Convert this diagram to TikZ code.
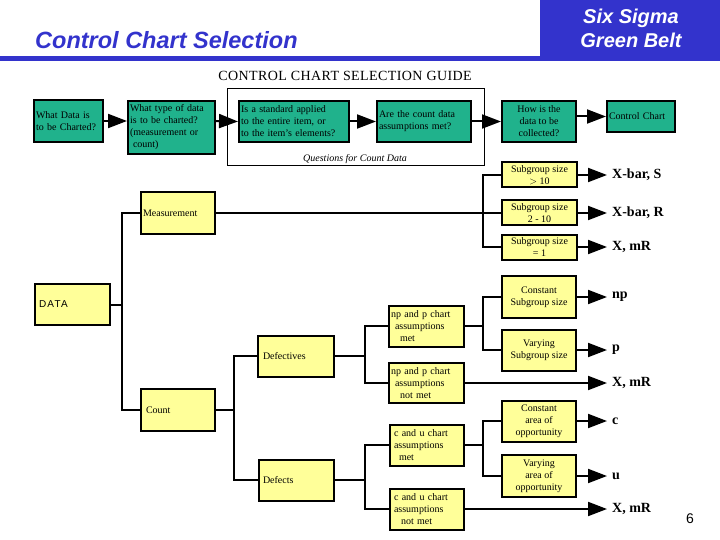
\documentclass[tikz,border=0pt]{standalone}
\usepackage{fontspec}
\setmainfont{Liberation Serif}
\newfontfamily\hsans{Liberation Sans}
\usetikzlibrary{arrows.meta}
\definecolor{hblue}{RGB}{51,51,204}
\definecolor{teal2}{RGB}{32,178,140}
\definecolor{yel}{RGB}{255,255,153}
\newcommand\boxfont{\fontsize{10}{12}\selectfont}
\begin{document}
\begin{tikzpicture}[x=1pt,y=-1pt,
 bx/.style={draw, line width=2pt, inner xsep=2pt, inner ysep=1pt, font=\boxfont},
 tb/.style={bx, fill=teal2},
 yb/.style={bx, fill=yel},
 conn/.style={line width=2pt},
 arr/.style={line width=2pt, -{Triangle[length=19pt,width=14pt]}},
 res/.style={anchor=west, inner sep=0pt, font=\fontsize{14}{16}\selectfont\bfseries},
]
\useasboundingbox (0,0) rectangle (720,540);
% header
\fill[hblue] (540,0) rectangle (720,58);
\fill[hblue] (0,56) rectangle (720,61);
\node[anchor=base west, inner sep=0pt, text=hblue, font=\hsans\bfseries\itshape\fontsize{23.5}{27}\selectfont] (title) at (35,49) {Control Chart Selection};
\node[text=white, align=center, inner sep=0pt, font=\hsans\bfseries\itshape\fontsize{20}{24}\selectfont] (brand) at (631,28) {Six Sigma\\Green Belt};
\node[font=\fontsize{14}{16}\selectfont\addfontfeatures{LetterSpace=3}] (guide) at (345,76) {CONTROL CHART SELECTION GUIDE};

% frame
\draw[line width=1pt] (227,89) rectangle (484,166);
\node[font=\boxfont\itshape, anchor=base] (qcd) at (355,162) {Questions for Count Data};

% top row
\node[tb, minimum width=69pt, minimum height=42pt, text width=65pt, align=left] (t1) at (68.5,121) {What Data is\\to be Charted?};
\node[tb, minimum width=87pt, minimum height=53pt, text width=83pt, align=left] (t2) at (171.5,127.5) {What type of data\\is to be charted?\\(measurement or\\\hspace*{3pt}count)};
\node[tb, minimum width=110pt, minimum height=41pt, text width=106pt, align=left] (t3) at (294,121.5) {Is a standard applied\\to the entire item, or\\to the item's elements?};
\node[tb, minimum width=94pt, minimum height=41pt, text width=90pt, align=left] (t4) at (424,121.5) {Are the count data\\assumptions met?};
\node[tb, minimum width=74pt, minimum height=41pt, align=center] (t5) at (539,121.5) {How is the\\data to be\\collected?};
\node[tb, minimum width=68pt, minimum height=31pt, text width=64pt, align=left] (t6) at (641,116.5) {Control Chart};

\draw[arr] (t1.east) -- (t1.east -| t2.west);
\draw[arr] (t1.east -| t2.east) -- (t3.west);
\draw[arr] (t3.east) -- (t4.west);
\draw[arr] (t4.east) -- (t5.west);
\draw[arr] (t6.west -| t5.east) -- (t6.west);

% yellow boxes
\node[yb, minimum width=75pt, minimum height=41pt, text width=67pt, align=left] (data) at (72.5,304.5) {\hsans\addfontfeatures{LetterSpace=12}DATA};
\node[yb, minimum width=74pt, minimum height=41pt, text width=70pt, align=left] (meas) at (178,213) {Measurement};
\node[yb, minimum width=74pt, minimum height=42pt, text width=64pt, align=left] (count) at (178,410) {Count};
\node[yb, minimum width=76pt, minimum height=41pt, text width=66pt, align=left] (defv) at (296,356) {Defectives};
\node[yb, minimum width=75pt, minimum height=41pt, text width=67pt, align=left] (defc) at (296.5,480) {Defects};

\node[yb, minimum width=75pt, minimum height=41pt, text width=71pt, align=left] (npm) at (426.5,326) {np and p chart\\\hspace*{4pt}assumptions\\\hspace*{9pt}met};
\node[yb, minimum width=75pt, minimum height=40pt, text width=71pt, align=left] (npn) at (426.5,383) {np and p chart\\\hspace*{4pt}assumptions\\\hspace*{9pt}not met};
\node[yb, minimum width=74pt, minimum height=41pt, text width=66pt, align=left] (cum) at (427,445) {c and u chart\\assumptions\\\hspace*{5pt}met};
\node[yb, minimum width=74pt, minimum height=41pt, text width=66pt, align=left] (cun) at (427,509) {c and u chart\\assumptions\\\hspace*{7pt}not met};

\node[yb, minimum width=75pt, minimum height=25pt, align=center] (sg1) at (539.5,175) {Subgroup size\\$>$ 10};
\node[yb, minimum width=75pt, minimum height=25pt, align=center] (sg2) at (539.5,213) {Subgroup size\\2 - 10};
\node[yb, minimum width=75pt, minimum height=25pt, align=center] (sg3) at (539.5,247) {Subgroup size\\= 1};
\node[yb, minimum width=74pt, minimum height=42pt, align=center] (csg) at (539,297) {Constant\\Subgroup size};
\node[yb, minimum width=74pt, minimum height=41pt, align=center] (vsg) at (539,350) {Varying\\Subgroup size};
\node[yb, minimum width=74pt, minimum height=41pt, align=center] (caop) at (539,421) {Constant\\area of\\opportunity};
\node[yb, minimum width=74pt, minimum height=42pt, align=center] (vaop) at (539,476) {Varying\\area of\\opportunity};

% results
\node[res] (r1) at (612,175) {X-bar, S};
\node[res] (r2) at (612,213) {X-bar, R};
\node[res] (r3) at (612,247) {X, mR};
\node[res] (r4) at (612,297) {np};
\node[res] (r5) at (612,350) {p};
\node[res] (r6) at (612,383) {X, mR};
\node[res] (r7) at (612,421) {c};
\node[res] (r8) at (612,476) {u};
\node[res] (r9) at (612,509) {X, mR};
\node[font=\hsans\fontsize{14}{16}\selectfont] (pg) at (690,519) {6};

% bus coordinates
\coordinate (trk) at (122,0);
\coordinate (b1) at (234,0);
\coordinate (b2) at (365,0);
\coordinate (b3) at (483,0);

% connectors
\draw[conn] (data.east) -- (data.east -| trk);
\draw[conn] (meas.west) -- (meas.west -| trk) -- (count.west -| trk) -- (count.west);
\draw[conn] (meas.east) -- (sg2.west);
\draw[conn] (sg1.west) -- (sg1.west -| b3) -- (sg3.west -| b3) -- (sg3.west);
\draw[conn] (count.east) -- (count.east -| b1);
\draw[conn] (defv.west) -- (defv.west -| b1) -- (defc.west -| b1) -- (defc.west);
\draw[conn] (defv.east) -- (defv.east -| b2);
\draw[conn] (npm.west) -- (npm.west -| b2) -- (npn.west -| b2) -- (npn.west);
\draw[conn] (defc.east) -- (defc.east -| b2);
\draw[conn] (cum.west) -- (cum.west -| b2) -- (cun.west -| b2) -- (cun.west);
\draw[conn] (npm.east) -- (npm.east -| b3);
\draw[conn] (csg.west) -- (csg.west -| b3) -- (vsg.west -| b3) -- (vsg.west);
\draw[conn] (cum.east) -- (cum.east -| b3);
\draw[conn] (caop.west) -- (caop.west -| b3) -- (vaop.west -| b3) -- (vaop.west);

% arrows to results
\draw[arr, shorten >=5pt] (sg1.east) -- (r1.west);
\draw[arr, shorten >=5pt] (sg2.east) -- (r2.west);
\draw[arr, shorten >=5pt] (sg3.east) -- (r3.west);
\draw[arr, shorten >=5pt] (csg.east) -- (r4.west);
\draw[arr, shorten >=5pt] (vsg.east) -- (r5.west);
\draw[arr, shorten >=5pt] (npn.east) -- (r6.west);
\draw[arr, shorten >=5pt] (caop.east) -- (r7.west);
\draw[arr, shorten >=5pt] (vaop.east) -- (r8.west);
\draw[arr, shorten >=5pt] (cun.east) -- (r9.west);
\end{tikzpicture}
\end{document}
